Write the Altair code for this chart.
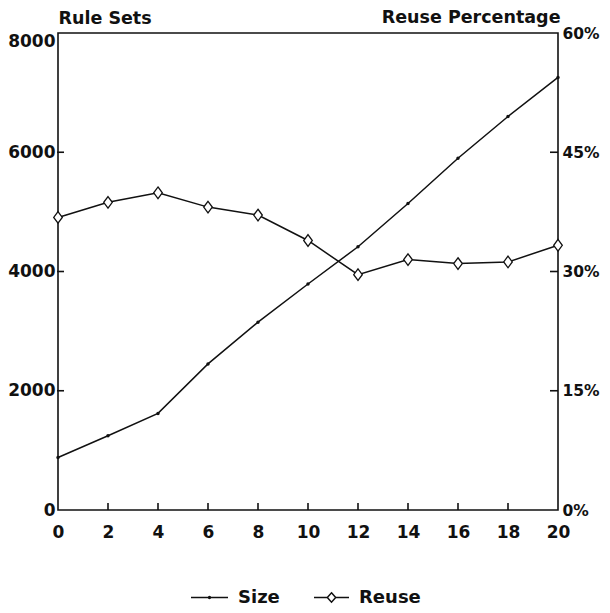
import altair as alt
import pandas as pd

# ---- data ----
x_vals = [0, 2, 4, 6, 8, 10, 12, 14, 16, 18, 20]
size_vals = [880, 1245, 1620, 2450, 3150, 3790, 4415, 5140, 5900, 6600, 7255]
reuse_vals = [0.368, 0.387, 0.399, 0.381, 0.371, 0.339, 0.296, 0.315, 0.310, 0.312, 0.333]

x_ticks = [0, 2, 4, 6, 8, 10, 12, 14, 16, 18, 20]
left_ticks = [0, 2000, 4000, 6000, 8000]
right_ticks = [0, 0.15, 0.30, 0.45, 0.60]

series_names = ["Size", "Reuse"]

df = pd.DataFrame({
    "x": x_vals,
    "size": size_vals,
    "reuse": reuse_vals,
    "s_name": [series_names[0]] * len(x_vals),
    "r_name": [series_names[1]] * len(x_vals),
})
xt_df = pd.DataFrame({"x": x_ticks[1:-1]})
lt_df = pd.DataFrame({"v": left_ticks[1:-1]})
rt_df = pd.DataFrame({"v": right_ticks[1:-1]})

W, H = 500, 477
INK = "#111111"
FONT = "DejaVu Sans"

DIAMOND = "M0,-1L0.74,0L0,1L-0.74,0Z"
LEG_SIZE = "M-1,0H1M0.05,0A0.05,0.05,0,1,1,-0.05,0A0.05,0.05,0,1,1,0.05,0"
LEG_REUSE = "M-1,0H-0.24M0.24,0H1M0,-0.27L0.24,0L0,0.27L-0.24,0Z"

x_dom = alt.Scale(domain=[0, 20], nice=False, zero=False)
size_scale = alt.Scale(domain=[0, 8000], nice=False)
reuse_scale = alt.Scale(domain=[0, 0.6], nice=False)

base = alt.Chart(df)

size_line = base.mark_line(color=INK, strokeWidth=1.5).encode(
    x=alt.X("x:Q", scale=x_dom, axis=alt.Axis(
        orient="bottom", values=x_ticks, ticks=False, tickSize=0, domain=False,
        labelFlush=False, labelPadding=14, title=None, grid=False)),
    y=alt.Y("size:Q", scale=size_scale, axis=alt.Axis(
        orient="left", values=left_ticks, ticks=False, tickSize=0, domain=False,
        labelPadding=3, format="d", grid=False,
        labelBaseline={"condition": {"test": "datum.value == 8000", "value": "top"}, "value": "middle"},
        title="Rule Sets", titleAngle=0, titleAlign="left", titleBaseline="alphabetic",
        titleX=0, titleY=-10)),
    color=alt.Color("s_name:N", scale=alt.Scale(domain=[series_names[0]], range=[INK]),
                    legend=alt.Legend(orient="none", legendX=132, legendY=545, title=None,
                                      symbolType=LEG_SIZE, symbolSize=1369,
                                      symbolFillColor=INK, symbolStrokeWidth=1.5,
                                      labelOffset=9)),
)

size_pts = base.mark_point(filled=True, color=INK, size=12, opacity=1).encode(
    x=alt.X("x:Q", scale=x_dom, axis=None),
    y=alt.Y("size:Q", scale=size_scale, axis=None),
)

reuse_line = base.mark_line(color=INK, strokeWidth=1.5).encode(
    x=alt.X("x:Q", scale=x_dom, axis=None),
    y=alt.Y("reuse:Q", scale=reuse_scale, axis=alt.Axis(
        orient="right", values=right_ticks, ticks=False, tickSize=0, domain=False,
        labelPadding=4, labelFontSize=15.5, format=".0%", grid=False,
        title="Reuse Percentage", titleAngle=0, titleAlign="right",
        titleBaseline="alphabetic", titleX=2, titleY=-11)),
    color=alt.Color("r_name:N", scale=alt.Scale(domain=[series_names[1]], range=[INK]),
                    legend=alt.Legend(orient="none", legendX=255, legendY=546, title=None,
                                      symbolType=LEG_REUSE, symbolSize=1225,
                                      symbolFillColor="white", symbolStrokeWidth=1.5,
                                      labelOffset=9)),
)

reuse_pts = base.mark_point(shape=DIAMOND, size=135, filled=True, fill="white",
                            stroke=INK, strokeWidth=1.3, opacity=1).encode(
    x=alt.X("x:Q", scale=x_dom, axis=None),
    y=alt.Y("reuse:Q", scale=reuse_scale, axis=None),
)

# inward tick marks: positions along each axis come from the scales
x_tick_marks = alt.Chart(xt_df).mark_rule(color=INK, strokeWidth=1.6).encode(
    x=alt.X("x:Q", scale=x_dom, axis=None),
    y=alt.value(H - 7),
    y2=alt.value(H),
)
left_tick_marks = alt.Chart(lt_df).mark_rule(color=INK, strokeWidth=1.6).encode(
    y=alt.Y("v:Q", scale=size_scale, axis=None),
    x=alt.value(-1),
    x2=alt.value(6),
)
right_tick_marks = alt.Chart(rt_df).mark_rule(color=INK, strokeWidth=1.6).encode(
    y=alt.Y("v:Q", scale=reuse_scale, axis=None),
    x=alt.value(W - 8),
    x2=alt.value(W),
)

chart = (
    alt.layer(size_line, size_pts, reuse_line, reuse_pts,
              x_tick_marks, left_tick_marks, right_tick_marks)
    .resolve_scale(y="independent", color="independent")
    .resolve_axis(x="independent", y="independent")
    .properties(width=W, height=H, autosize=alt.AutoSizeParams(type="none"),
                padding={"left": 50, "top": 25, "right": 44, "bottom": 100})
    .configure_view(stroke=INK, strokeWidth=1.6)
    .configure_axis(labelFont=FONT, labelFontSize=17, labelFontWeight="bold", labelColor=INK,
                    titleFont=FONT, titleFontSize=17.5, titleFontWeight="bold",
                    titleColor=INK, grid=False)
    .configure_legend(labelFont=FONT, labelFontSize=18, labelFontWeight="bold",
                      labelColor=INK, padding=0)
)

chart.save("out.html", embed_options={"renderer": "svg", "actions": False})
